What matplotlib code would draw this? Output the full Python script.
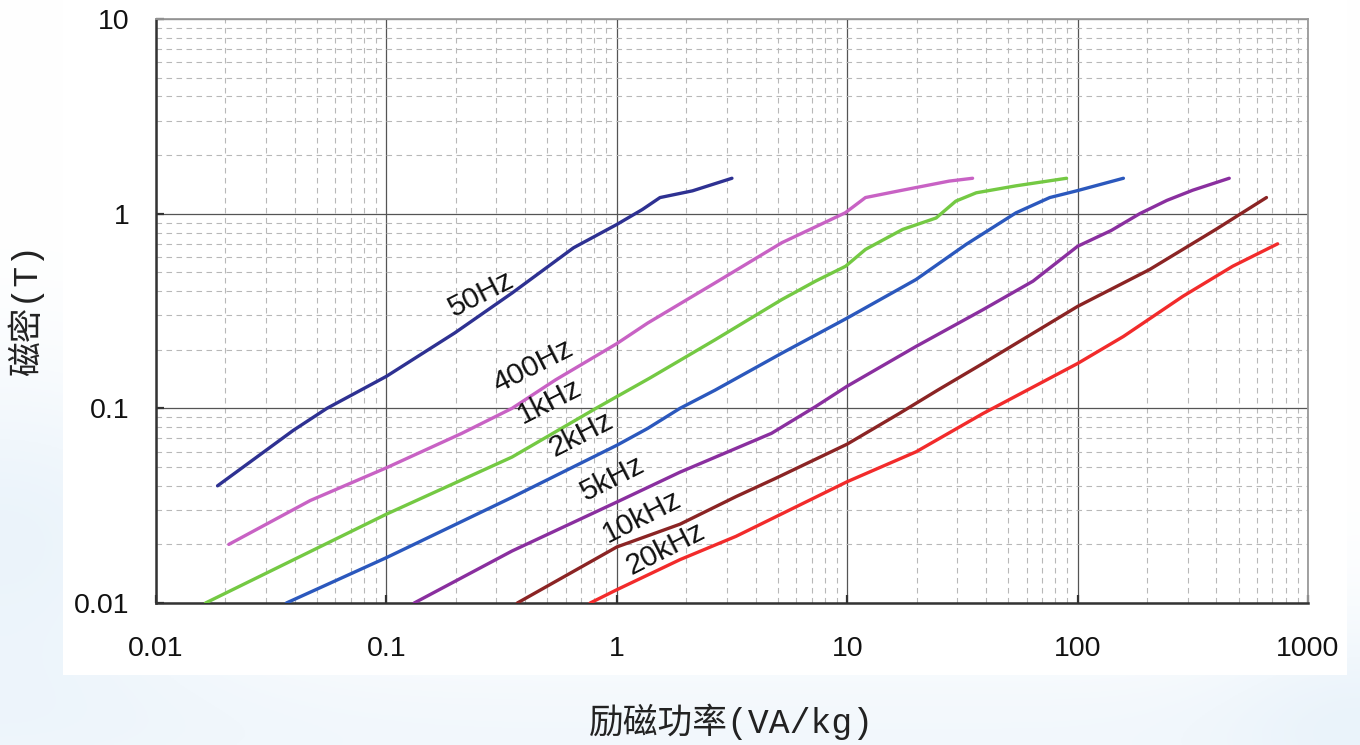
import numpy as np
import matplotlib
matplotlib.use("Agg")
import matplotlib.pyplot as plt
from matplotlib.patches import Rectangle
from matplotlib.ticker import LogLocator, NullFormatter, FixedLocator

# Excitation power (VA/kg) vs. flux density (T) for several frequencies
f50_x = [0.0185, 0.0394, 0.0552, 0.1, 0.198, 0.352, 0.649, 1.0, 1.29, 1.54, 2.13, 3.16]
f50_y = [0.040, 0.077, 0.100, 0.146, 0.244, 0.392, 0.668, 0.88, 1.05, 1.21, 1.31, 1.52]

f400_x = [0.0207, 0.0467, 0.1, 0.212, 0.351, 0.542, 1.0, 1.36, 2.67, 5.2, 9.8, 12.0, 16.8, 27.7, 35.0]
f400_y = [0.020, 0.0336, 0.0495, 0.0743, 0.100, 0.140, 0.215, 0.274, 0.441, 0.709, 1.01, 1.21, 1.31, 1.47, 1.52]

f1k_x = [0.0164, 0.1, 0.351, 0.812, 1.39, 2.67, 5.2, 7.28, 9.84, 12.0, 17.4, 24.3, 29.6, 36.3, 54.0, 89.5]
f1k_y = [0.010, 0.0286, 0.0562, 0.100, 0.143, 0.225, 0.362, 0.45, 0.537, 0.655, 0.83, 0.95, 1.16, 1.28, 1.39, 1.52]

f2k_x = [0.0368, 0.1, 0.351, 1.0, 1.36, 1.88, 2.67, 5.2, 10.0, 19.9, 32.8, 54.0, 75.7, 99.0, 158.0]
f2k_y = [0.010, 0.0171, 0.0349, 0.0646, 0.0788, 0.100, 0.124, 0.192, 0.291, 0.459, 0.695, 1.01, 1.21, 1.31, 1.52]

f5k_x = [0.132, 0.351, 1.0, 1.88, 4.69, 7.28, 10.0, 19.9, 38.8, 64.0, 100.0, 140.0, 186.0, 244.0, 316.0, 455.0]
f5k_y = [0.010, 0.0185, 0.033, 0.047, 0.0744, 0.102, 0.130, 0.208, 0.321, 0.45, 0.68, 0.82, 1.00, 1.17, 1.32, 1.52]

f10k_x = [0.37, 1.0, 1.88, 3.29, 4.87, 10.0, 16.8, 24.7, 38.8, 100.0, 205.0, 398.0, 660.0]
f10k_y = [0.010, 0.0194, 0.0254, 0.0352, 0.0436, 0.0655, 0.094, 0.124, 0.170, 0.334, 0.516, 0.83, 1.21]

f20k_x = [0.766, 1.0, 1.88, 3.29, 10.0, 19.9, 38.8, 100.0, 158.0, 286.0, 471.0, 738.0]
f20k_y = [0.010, 0.0117, 0.0167, 0.022, 0.042, 0.0598, 0.094, 0.170, 0.234, 0.376, 0.537, 0.70]

series_names = ["50Hz", "400Hz", "1kHz", "2kHz", "5kHz", "10kHz", "20kHz"]
series_x = [f50_x, f400_x, f1k_x, f2k_x, f5k_x, f10k_x, f20k_x]
series_y = [f50_y, f400_y, f1k_y, f2k_y, f5k_y, f10k_y, f20k_y]
series_colors = ["#2e3192", "#c862c4", "#74c943", "#2b58bd", "#8a2f9f", "#8b2424", "#f22b2b"]

# label anchor points (data coordinates)
label_x = [0.258, 0.434, 0.510, 0.702, 0.956, 1.290, 1.623]
label_y = [0.387, 0.165, 0.109, 0.0738, 0.0434, 0.0277, 0.0190]

x_ticks = [0.01, 0.1, 1, 10, 100, 1000]
x_tick_labels = ["0.01", "0.1", "1", "10", "100", "1000"]
y_ticks = [0.01, 0.1, 1, 10]
y_tick_labels = ["0.01", "0.1", "1", "10"]

fig = plt.figure(figsize=(13.6, 7.45), dpi=100)

# soft pale-blue backdrop with a white panel behind the chart
bg = fig.add_axes([0, 0, 1, 1], zorder=0)
bg.set_xlim(0, 1)
bg.set_ylim(0, 1)
bg.axis("off")
yy, xx = np.mgrid[0:1:300j, 0:1:500j]
haze = (0.55 * np.exp(-((xx - 0.0) ** 2 / 0.03 + (yy - 0.28) ** 2 / 0.05))
        + 0.35 * np.exp(-((yy - 0.0) ** 2 / 0.02))
        + 0.25 * np.exp(-((xx - 1.0) ** 2 / 0.01 + (yy - 0.05) ** 2 / 0.03)))
haze = np.clip(haze, 0, 1)
white = np.array([1.0, 1.0, 1.0])
blue = np.array([0.86, 0.92, 0.97])
img = white[None, None, :] * (1 - haze[..., None]) + blue[None, None, :] * haze[..., None]
bg.imshow(img, extent=[0, 1, 0, 1], origin="lower", aspect="auto", zorder=0)
bg.add_patch(Rectangle((0.0463, 0.094), 0.944, 0.906, facecolor="white",
                       edgecolor="none", zorder=1))

ax = fig.add_axes([0.1147, 0.1906, 0.8471, 0.7839], zorder=2)
ax.set_xscale("log")
ax.set_yscale("log")
ax.set_xlim(0.01, 1000)
ax.set_ylim(0.01, 10)
ax.patch.set_alpha(0)

ax.xaxis.set_major_locator(FixedLocator(x_ticks))
ax.yaxis.set_major_locator(FixedLocator(y_ticks))
ax.set_xticklabels(x_tick_labels)
ax.set_yticklabels(y_tick_labels)
ax.xaxis.set_minor_locator(LogLocator(base=10, subs=np.arange(2, 10), numticks=20))
ax.yaxis.set_minor_locator(LogLocator(base=10, subs=np.arange(2, 10), numticks=20))
ax.xaxis.set_minor_formatter(NullFormatter())
ax.yaxis.set_minor_formatter(NullFormatter())

ax.set_axisbelow(True)
ax.grid(which="major", color="#555555", linewidth=0.9, linestyle="-")
ax.grid(which="minor", color="#b8b8b8", linewidth=0.8, linestyle=(0, (5, 4)))

ax.tick_params(which="major", direction="in", length=6, width=1.6, color="#333333",
               labelsize=20.5, labelcolor="#111111")
ax.tick_params(which="minor", length=0)
ax.tick_params(axis="x", which="major", pad=24)
ax.tick_params(axis="y", which="major", pad=19)
for lab in ax.get_xticklabels() + ax.get_yticklabels():
    lab.set_fontfamily("Liberation Sans")

for side in ("left", "bottom"):
    ax.spines[side].set_color("#333333")
    ax.spines[side].set_linewidth(1.8)
for side in ("top", "right"):
    ax.spines[side].set_color("#9a9a9a")
    ax.spines[side].set_linewidth(1.3)

for xs, ys, col in zip(series_x, series_y, series_colors):
    ax.plot(xs, ys, color=col, linewidth=2.4, solid_capstyle="round",
            solid_joinstyle="round", zorder=3)

for name, lx, ly in zip(series_names, label_x, label_y):
    ax.text(lx, ly, name, rotation=27, rotation_mode="anchor", ha="center", va="center",
            fontsize=21.5, family="Liberation Sans", color="#111111", zorder=4)

label_font = ["Liberation Mono", "Noto Sans CJK SC", "DejaVu Sans"]
fig.text(0.019, 0.584, "磁密(T)", rotation=90, ha="center", va="center",
         fontsize=25, family=label_font, color="#222222")
fig.text(0.5375, 0.031, "励磁功率(VA/kg)", ha="center", va="center",
         fontsize=25, family=label_font, color="#222222")

fig.savefig("out.png", dpi=100)
